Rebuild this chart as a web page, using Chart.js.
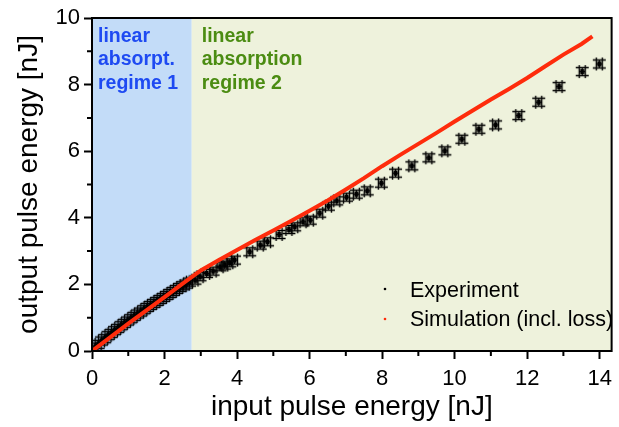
<!DOCTYPE html>
<html>
<head>
<meta charset="utf-8">
<script src="https://cdn.jsdelivr.net/npm/chart.js@4.4.1/dist/chart.umd.min.js"></script>
<style>
  html, body { margin: 0; padding: 0; background: #fff; }
  #chart { display: block; }
</style>
</head>
<body>
<canvas id="chart" width="619" height="427"></canvas>
<script>
// measured data: input vs output pulse energy [nJ]
var expX = [0.08, 0.17, 0.26, 0.35, 0.44, 0.53, 0.62, 0.71, 0.80, 0.89, 0.98, 1.07, 1.16, 1.25, 1.34,
            1.43, 1.52, 1.61, 1.70, 1.79, 1.88, 1.97, 2.06, 2.15, 2.24, 2.33, 2.42, 2.51, 2.60, 2.69,
            2.84, 2.98, 3.16, 3.34, 3.53, 3.66, 3.80, 3.93, 4.35, 4.64, 4.84, 5.16, 5.43, 5.59, 5.82,
            6.02, 6.28, 6.52, 6.75, 7.02, 7.29, 7.59, 7.98, 8.37, 8.82, 9.29, 9.73, 10.20, 10.67, 11.13,
            11.77, 12.32, 12.88, 13.52, 13.99];
var expY = [0.12, 0.20, 0.30, 0.37, 0.46, 0.53, 0.61, 0.68, 0.76, 0.83, 0.90, 0.97, 1.04, 1.11, 1.17,
            1.24, 1.31, 1.37, 1.43, 1.49, 1.55, 1.61, 1.67, 1.73, 1.79, 1.85, 1.91, 1.96, 2.01, 2.07,
            2.13, 2.23, 2.33, 2.40, 2.53, 2.58, 2.65, 2.73, 2.98, 3.18, 3.28, 3.50, 3.65, 3.73, 3.88,
            3.93, 4.14, 4.35, 4.51, 4.62, 4.71, 4.81, 5.04, 5.34, 5.56, 5.80, 6.01, 6.36, 6.66, 6.79,
            7.07, 7.47, 7.94, 8.39, 8.62];

// simulation (incl. loss)
var simX = [0, 0.5, 1.0, 1.5, 2.0, 2.5, 3.0, 3.5, 4.0, 4.5, 5.0, 5.5, 6.0, 6.5, 7.0, 7.5,
            8.0, 8.5, 9.0, 9.5, 10.0, 10.5, 11.0, 11.5, 12.0, 12.5, 13.0, 13.5, 13.8];
var simY = [0, 0.41, 0.82, 1.22, 1.62, 2.02, 2.42, 2.73, 3.03, 3.33, 3.62, 3.91, 4.21, 4.52, 4.85, 5.19,
            5.55, 5.89, 6.22, 6.55, 6.89, 7.22, 7.55, 7.87, 8.20, 8.55, 8.90, 9.22, 9.45];

var regimeBoundary = 2.75;
var regime1Label = ['linear', 'absorpt.', 'regime 1'];
var regime2Label = ['linear', 'absorption', 'regime 2'];
var seriesNames = ['Experiment', 'Simulation (incl. loss)'];

var FONT = '"Liberation Sans", Arial, Helvetica, sans-serif';
var RED = '#fe2c0c';

// "#"-like marker: data point with x/y error bars and caps
function makeMarker() {
    var c = document.createElement('canvas');
    c.width = 17; c.height = 17;
    var g = c.getContext('2d');
    var m = 8.5;
    g.strokeStyle = '#000';
    g.lineWidth = 1.4;
    g.beginPath();
    g.moveTo(m - 6.5, m - 4); g.lineTo(m + 6.5, m - 4);
    g.moveTo(m - 6.5, m + 4); g.lineTo(m + 6.5, m + 4);
    g.moveTo(m - 3, m - 6.5); g.lineTo(m - 3, m + 6.5);
    g.moveTo(m + 3, m - 6.5); g.lineTo(m + 3, m + 6.5);
    g.moveTo(m, m - 4); g.lineTo(m, m + 4);
    g.moveTo(m - 3, m); g.lineTo(m + 3, m);
    g.stroke();
    g.fillStyle = '#000';
    g.fillRect(m - 2, m - 2.5, 4, 5);
    return c;
}

function toPoints(xs, ys) {
    return xs.map(function(x, i) { return { x: x, y: ys[i] }; });
}

var regionsPlugin = {
    id: 'regions',
    beforeDatasetsDraw: function(chart) {
        var ctx = chart.ctx, a = chart.chartArea;
        var xb = chart.scales.x.getPixelForValue(regimeBoundary);
        ctx.save();
        ctx.fillStyle = '#c3dcf8';
        ctx.fillRect(a.left, a.top, xb - a.left, a.bottom - a.top);
        ctx.fillStyle = '#eef2dc';
        ctx.fillRect(xb, a.top, a.right - xb, a.bottom - a.top);

        ctx.font = 'bold 19.5px ' + FONT;
        ctx.textBaseline = 'alphabetic';
        ctx.fillStyle = '#1e4af2';
        regime1Label.forEach(function(t, i) { ctx.fillText(t, a.left + 6, a.top + 23.5 + i * 23.5); });
        ctx.fillStyle = '#4b8c12';
        regime2Label.forEach(function(t, i) { ctx.fillText(t, xb + 10, a.top + 23.5 + i * 23.5); });
        ctx.restore();
    }
};

var framePlugin = {
    id: 'frame',
    afterDraw: function(chart) {
        var ctx = chart.ctx, a = chart.chartArea;
        var xs = chart.scales.x, ys = chart.scales.y;
        ctx.save();
        ctx.strokeStyle = '#000';
        ctx.lineWidth = 2;
        ctx.strokeRect(a.left, a.top, a.right - a.left, a.bottom - a.top);
        // minor ticks at odd values
        ctx.beginPath();
        xs.ticks.forEach(function(t) {
            if (t.value % 2 === 1) {
                var p = xs.getPixelForValue(t.value);
                ctx.moveTo(p, a.bottom); ctx.lineTo(p, a.bottom + 5);
            }
        });
        ys.ticks.forEach(function(t) {
            if (t.value % 2 === 1) {
                var p = ys.getPixelForValue(t.value);
                ctx.moveTo(a.left - 5, p); ctx.lineTo(a.left, p);
            }
        });
        ctx.stroke();

        // legend inside plot
        ctx.font = '21.5px ' + FONT;
        ctx.textBaseline = 'alphabetic';
        var lx = 410, ly = [296.5, 326];
        ctx.fillStyle = '#000';
        ctx.beginPath(); ctx.arc(385, ly[0] - 7.5, 1.3, 0, Math.PI * 2); ctx.fill();
        ctx.fillText(seriesNames[0], lx, ly[0]);
        ctx.fillStyle = RED;
        ctx.beginPath(); ctx.arc(385, ly[1] - 7, 1.3, 0, Math.PI * 2); ctx.fill();
        ctx.fillStyle = '#000';
        ctx.fillText(seriesNames[1], lx, ly[1]);
        ctx.restore();
    }
};

function majorOnly(v) { return v % 2 === 0 ? String(v) : ''; }
function majorColor(c) { return c.tick && c.tick.value % 2 === 0 ? '#000' : 'rgba(0,0,0,0)'; }

new Chart(document.getElementById('chart'), {
    type: 'scatter',
    data: {
        datasets: [{
            label: seriesNames[1],
            data: toPoints(simX, simY),
            showLine: true,
            borderColor: RED,
            borderWidth: 4,
            pointRadius: 0,
            tension: 0,
            order: 0
        }, {
            label: seriesNames[0],
            data: toPoints(expX, expY),
            pointStyle: makeMarker(),
            order: 1
        }]
    },
    options: {
        responsive: false,
        animation: false,
        events: [],
        layout: { padding: { top: 18, right: 1, left: 0, bottom: 0 } },
        plugins: { legend: { display: false }, tooltip: { enabled: false } },
        scales: {
            x: {
                type: 'linear', min: 0, max: 14.33,
                afterFit: function(s) { s.height = 76; },
                border: { display: true, color: '#000', width: 2 },
                grid: { drawOnChartArea: false, tickLength: 8, tickWidth: 2, tickColor: majorColor },
                ticks: { stepSize: 1, autoSkip: false, includeBounds: false, maxRotation: 0,
                         color: '#000', padding: 7, font: { family: FONT, size: 22 }, callback: majorOnly },
                title: { display: true, text: 'input pulse energy [nJ]', color: '#000',
                         font: { family: FONT, size: 28 }, padding: { top: 0, bottom: 3 } }
            },
            y: {
                type: 'linear', min: 0, max: 10,
                afterFit: function(s) { s.width = 92; },
                border: { display: true, color: '#000', width: 2 },
                grid: { drawOnChartArea: false, tickLength: 8, tickWidth: 2, tickColor: majorColor },
                ticks: { stepSize: 1, autoSkip: false, includeBounds: false,
                         color: '#000', padding: 4, font: { family: FONT, size: 22 }, callback: majorOnly },
                title: { display: true, text: 'output pulse energy [nJ]', color: '#000',
                         font: { family: FONT, size: 28 }, padding: { top: 12, bottom: 0 } }
            }
        }
    },
    plugins: [regionsPlugin, framePlugin]
});
</script>
</body>
</html>
